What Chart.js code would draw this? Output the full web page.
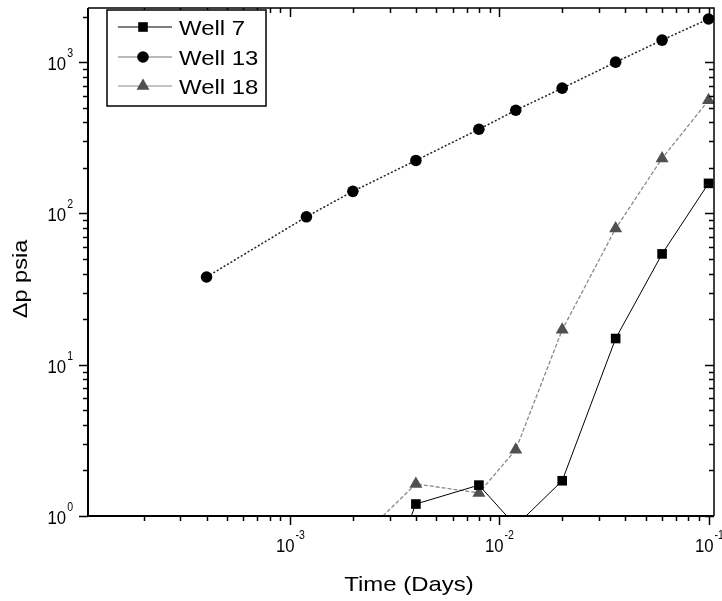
<!DOCTYPE html>
<html lang="en">
<head>
<meta charset="UTF-8">
<title>Well drawdown, log-log</title>
<script src="https://cdn.jsdelivr.net/npm/chart.js"></script>
<style>
  body { margin: 0; background: #fff; }
  canvas { display: block; }
</style>
</head>
<body>
<canvas id="myChart" width="722" height="601"></canvas>
<script>
// data (time in days, pressure drop in psia)
const timeDays = [0.0004, 0.0012, 0.002, 0.004, 0.008, 0.012, 0.02, 0.036, 0.06, 0.1];
const well7  = [null, null, 0.1, 1.2, 1.6, 0.86, 1.71, 14.9, 54, 158];
const well13 = [38, 95, 140, 224, 360, 481, 673, 1000, 1399, 1928];
const well18 = [null, null, 0.64, 1.63, 1.42, 2.74, 17, 79.5, 231, 560];
const seriesNames = ['Well 7', 'Well 13', 'Well 18'];
const xLabel = 'Time (Days)';
const yLabel = 'Δp psia';

const FONT = '"Liberation Sans", Arial, sans-serif';

function toPoints(values) {
    return timeDays.map((t, i) => ({ x: t, y: values[i] })).filter(p => p.y !== null);
}

// draws text squeezed/stretched horizontally, like the scanned figure
function stretchText(ctx, text, x, y, size, sx, align) {
    ctx.save();
    ctx.font = size + 'px ' + FONT;
    const w = ctx.measureText(text).width * sx;
    let x0 = x;
    if (align === 'center') x0 = x - w / 2;
    if (align === 'right') x0 = x - w;
    ctx.translate(x0, y);
    ctx.scale(sx, 1);
    ctx.textAlign = 'left';
    ctx.textBaseline = 'alphabetic';
    ctx.fillText(text, 0, 0);
    ctx.restore();
    return w;
}

function powerWidth(ctx, exp) {
    ctx.font = '19px ' + FONT;
    const a = ctx.measureText('10').width * 0.88;
    ctx.font = '12px ' + FONT;
    const b = ctx.measureText(String(exp)).width * 0.88;
    return a + b + 1;
}

function drawPower(ctx, exp, x, y) {
    const w = stretchText(ctx, '10', x, y, 19, 0.88, 'left');
    stretchText(ctx, String(exp), x + w + 1, y - 13, 12, 0.88, 'left');
}

function logTicks(min, max) {
    const out = [];
    for (let d = Math.floor(Math.log10(min)); d <= Math.ceil(Math.log10(max)); d++) {
        for (let m = 1; m < 10; m++) {
            const v = m * Math.pow(10, d);
            if (v >= min * 0.999 && v <= max * 1.001) out.push({ v: v, major: m === 1, exp: d });
        }
    }
    return out;
}

function drawMarker(ctx, style, x, y, r) {
    ctx.beginPath();
    if (style === 'rect') {
        const s = r * Math.SQRT1_2;
        ctx.rect(x - s, y - s, 2 * s, 2 * s);
    } else if (style === 'triangle') {
        ctx.moveTo(x, y - r);
        ctx.lineTo(x + r * 0.866, y + r * 0.5);
        ctx.lineTo(x - r * 0.866, y + r * 0.5);
        ctx.closePath();
    } else {
        ctx.arc(x, y, r, 0, Math.PI * 2);
    }
    ctx.fill();
}

const framePlugin = {
    id: 'frame',
    afterDraw(chart) {
        const ctx = chart.ctx;
        const a = chart.chartArea;
        const xs = chart.scales.x, ys = chart.scales.y;
        ctx.save();
        ctx.strokeStyle = '#000';
        ctx.fillStyle = '#000';

        // frame
        ctx.lineWidth = 1.5;
        ctx.beginPath();
        ctx.moveTo(a.left, a.top); ctx.lineTo(a.right, a.top); ctx.lineTo(a.right, a.bottom);
        ctx.stroke();
        ctx.lineWidth = 2;
        ctx.beginPath();
        ctx.moveTo(a.left, a.top); ctx.lineTo(a.left, a.bottom); ctx.lineTo(a.right, a.bottom);
        ctx.stroke();

        // x ticks: outward at bottom, inward at top
        ctx.lineWidth = 1.5;
        logTicks(xs.min, xs.max).forEach(t => {
            const px = Math.round(xs.getPixelForValue(t.v)) + 0.5;
            const len = t.major ? 9 : 5;
            ctx.beginPath();
            ctx.moveTo(px, a.bottom); ctx.lineTo(px, a.bottom + len);
            ctx.moveTo(px, a.top); ctx.lineTo(px, a.top + len);
            ctx.stroke();
            if (t.major && t.v > xs.min * 1.01) {
                const w = powerWidth(ctx, t.exp);
                drawPower(ctx, t.exp, px - w / 2, a.bottom + 36);
            }
        });

        // y ticks: outward at left, inward at right
        logTicks(ys.min, ys.max).forEach(t => {
            const py = Math.round(ys.getPixelForValue(t.v)) + 0.5;
            const len = t.major ? 9 : 5;
            ctx.beginPath();
            ctx.moveTo(a.left, py); ctx.lineTo(a.left - len, py);
            ctx.moveTo(a.right, py); ctx.lineTo(a.right - len, py);
            ctx.stroke();
            if (t.major) {
                const w = powerWidth(ctx, t.exp);
                drawPower(ctx, t.exp, a.left - 15 - w, py + 7);
            }
        });

        // axis titles
        stretchText(ctx, xLabel, (a.left + a.right) / 2 + 8, a.bottom + 75, 21, 1.14, 'center');
        ctx.save();
        ctx.translate(27, 279);
        ctx.rotate(-Math.PI / 2);
        stretchText(ctx, yLabel, 0, 0, 21, 1.12, 'center');
        ctx.restore();

        // legend box
        const lx = 107, ly = 10, lw = 159, lh = 96;
        ctx.fillStyle = '#fff';
        ctx.fillRect(lx, ly, lw, lh);
        ctx.strokeStyle = '#000';
        ctx.lineWidth = 1.5;
        ctx.strokeRect(lx, ly, lw, lh);
        const rows = [27, 57, 86];
        chart.data.datasets.forEach((ds, i) => {
            const y = ly + rows[i] - 10;
            ctx.strokeStyle = ds.legendLine;
            ctx.lineWidth = 1.2;
            ctx.setLineDash([]);
            ctx.beginPath();
            ctx.moveTo(lx + 11, y); ctx.lineTo(lx + 65, y);
            ctx.stroke();
            ctx.fillStyle = ds.pointBackgroundColor;
            drawMarker(ctx, ds.pointStyle, lx + 36, y, ds.pointRadius);
            ctx.fillStyle = '#000';
            stretchText(ctx, ds.label, lx + 72, y + 8, 21, 1.14, 'left');
        });
        ctx.restore();
    }
};

const ctx = document.getElementById('myChart');

new Chart(ctx, {
    type: 'scatter',
    data: {
        datasets: [
            {
                label: seriesNames[0],
                data: toPoints(well7),
                showLine: true,
                borderColor: '#000',
                borderWidth: 1,
                pointStyle: 'rect',
                pointRadius: 6.8,
                pointBackgroundColor: '#000',
                pointBorderWidth: 0,
                legendLine: '#000'
            },
            {
                label: seriesNames[1],
                data: toPoints(well13),
                showLine: true,
                borderColor: '#222',
                borderWidth: 1.5,
                borderDash: [2, 2],
                pointStyle: 'circle',
                pointRadius: 5.8,
                pointBackgroundColor: '#000',
                pointBorderWidth: 0,
                legendLine: '#777'
            },
            {
                label: seriesNames[2],
                data: toPoints(well18),
                showLine: true,
                borderColor: '#8a8a8a',
                borderWidth: 1.3,
                borderDash: [4, 2],
                pointStyle: 'triangle',
                pointRadius: 7.5,
                pointBackgroundColor: '#505050',
                pointBorderWidth: 0,
                legendLine: '#888'
            }
        ]
    },
    options: {
        responsive: false,
        animation: false,
        layout: { padding: { left: 88, right: 8, top: 8, bottom: 85 } },
        scales: {
            x: { type: 'logarithmic', min: 1.086e-4, max: 0.1062, display: false },
            y: { type: 'logarithmic', min: 1, max: 2280, display: false }
        },
        plugins: {
            legend: { display: false },
            tooltip: { enabled: false }
        }
    },
    plugins: [framePlugin]
});
</script>
</body>
</html>
